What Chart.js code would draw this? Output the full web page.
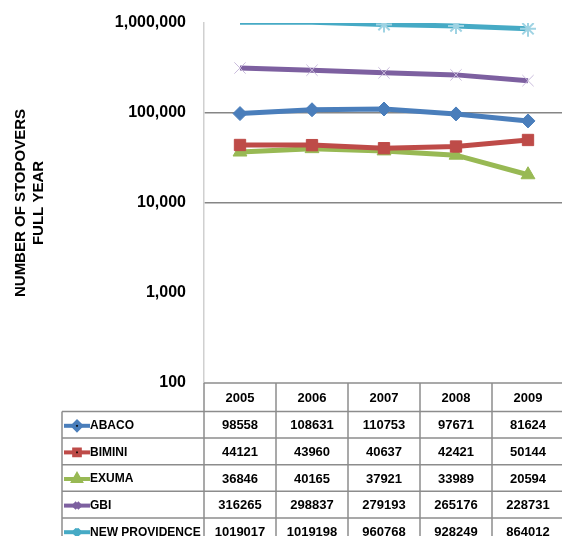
<!DOCTYPE html>
<html>
<head>
<meta charset="utf-8">
<script src="https://cdn.jsdelivr.net/npm/chart.js@4"></script>
<style>
  html, body { margin: 0; padding: 0; background: #fff; overflow: hidden; }
  #wrap { width: 574px; height: 560px; }
</style>
</head>
<body>
<div id="wrap"><canvas id="chart" width="574" height="560"></canvas></div>
<script>
// data
const years = ['2005', '2006', '2007', '2008', '2009'];
const abaco = [98558, 108631, 110753, 97671, 81624];
const bimini = [44121, 43960, 40637, 42421, 50144];
const exuma = [36846, 40165, 37921, 33989, 20594];
const gbi = [316265, 298837, 279193, 265176, 228731];
const newProvidence = [1019017, 1019198, 960768, 928249, 864012];
const seriesNames = ['ABACO', 'BIMINI', 'EXUMA', 'GBI', 'NEW PROVIDENCE'];
const yTicks = [100, 1000, 10000, 100000, 1000000];
const gridValues = [10000, 100000];

const yMin = 100;
const yMax = 1000000;
const FONT = '"Liberation Sans", Arial, sans-serif';

function makeSeries(label, data, color, style, pointColor, radius, pbw) {
    return {
        label: label,
        data: data,
        borderColor: color,
        backgroundColor: pointColor,
        pointBorderColor: pointColor,
        pointBackgroundColor: pointColor,
        borderWidth: 5,
        pointStyle: style,
        pointRadius: ctx => (ctx.raw > yMax ? 0 : radius),
        pointBorderWidth: pbw,
        tension: 0
    };
}

// draws the data table under the plot
const tablePlugin = {
    id: 'dataTable',
    afterDraw(chart) {
        const ctx = chart.ctx;
        const area = chart.chartArea;
        const xs = chart.scales.x;
        const headH = 28.5;
        const rowH = 26.6;
        const labelLeft = 62;
        const colW = (area.right - area.left) / years.length;
        const top = area.bottom;
        const bottom = top + headH + rowH * seriesNames.length;

        ctx.save();
        ctx.strokeStyle = '#8c8c8c';
        ctx.lineWidth = 1.5;
        // vertical lines
        for (let i = 0; i <= years.length; i++) {
            const x = area.left + colW * i;
            ctx.beginPath();
            ctx.moveTo(x, top);
            ctx.lineTo(x, bottom);
            ctx.stroke();
        }
        ctx.beginPath();
        ctx.moveTo(labelLeft, top + headH);
        ctx.lineTo(labelLeft, bottom);
        ctx.stroke();
        // horizontal lines
        ctx.beginPath();
        ctx.moveTo(area.left, top);
        ctx.lineTo(area.right, top);
        ctx.stroke();
        for (let r = 0; r <= seriesNames.length; r++) {
            const y = top + headH + rowH * r;
            ctx.beginPath();
            ctx.moveTo(labelLeft, y);
            ctx.lineTo(area.right, y);
            ctx.stroke();
        }

        ctx.fillStyle = '#000';
        ctx.font = 'bold 13px ' + FONT;
        ctx.textAlign = 'center';
        ctx.textBaseline = 'middle';
        years.forEach((yr, i) => {
            ctx.fillText(yr, xs.getPixelForValue(i), top + headH / 2 + 1);
        });

        chart.data.datasets.forEach((ds, r) => {
            const cy = top + headH + rowH * r + rowH / 2 + 1;
            // legend key
            ctx.strokeStyle = ds.borderColor;
            ctx.lineWidth = 4;
            ctx.beginPath();
            ctx.moveTo(64, cy);
            ctx.lineTo(90, cy);
            ctx.stroke();
            Chart.helpers.drawPoint(ctx, {
                pointStyle: ds.pointStyle,
                radius: 4,
                rotation: 0,
                borderWidth: 1
            }, 77, cy);
            ctx.fillStyle = '#000';
            ctx.textAlign = 'left';
            ctx.font = 'bold 12px ' + FONT;
            ctx.fillText(seriesNames[r], 90, cy);
            ctx.textAlign = 'center';
            ctx.font = 'bold 13px ' + FONT;
            ds.data.forEach((v, i) => {
                ctx.fillText(String(v), xs.getPixelForValue(i), cy);
            });
        });
        ctx.restore();
    }
};

new Chart(document.getElementById('chart'), {
    type: 'line',
    data: {
        labels: years,
        datasets: [
            makeSeries(seriesNames[0], abaco, '#4a7ebb', 'rectRot', '#4a7ebb', 7, 1),
            makeSeries(seriesNames[1], bimini, '#be4b48', 'rect', '#be4b48', 8, 1),
            makeSeries(seriesNames[2], exuma, '#98b954', 'triangle', '#98b954', 8, 1),
            makeSeries(seriesNames[3], gbi, '#7d60a0', 'crossRot', '#c9bbdc', 8, 1),
            makeSeries(seriesNames[4], newProvidence, '#46aac5', 'star', '#9fd3e3', 8, 2)
        ]
    },
    options: {
        responsive: false,
        animation: false,
        layout: { padding: { top: 23, right: 3, bottom: 177, left: 0 } },
        plugins: {
            legend: { display: false },
            tooltip: { enabled: false }
        },
        scales: {
            x: {
                display: false,
                offset: true
            },
            y: {
                type: 'logarithmic',
                min: yMin,
                max: yMax,
                afterBuildTicks: axis => {
                    axis.ticks = yTicks.map(v => ({ value: v }));
                },
                afterFit: axis => { axis.width = 204; },
                ticks: {
                    color: '#000',
                    padding: 2,
                    font: { family: FONT, size: 16, weight: 'bold' },
                    callback: v => Number(v).toLocaleString('en-US')
                },
                grid: {
                    drawTicks: true,
                    tickLength: 16,
                    tickColor: 'rgba(0,0,0,0)',
                    color: ctx => (ctx.tick && gridValues.includes(ctx.tick.value) ? '#868686' : 'rgba(0,0,0,0)'),
                    lineWidth: 1.5
                },
                border: { color: '#d0d0d0', width: 1.5 },
                title: {
                    display: true,
                    text: ['NUMBER OF STOPOVERS', 'FULL YEAR'],
                    color: '#000',
                    padding: { top: 12, bottom: 0 },
                    font: { family: FONT, size: 15, weight: 'bold' }
                }
            }
        }
    },
    plugins: [tablePlugin]
});
</script>
</body>
</html>
